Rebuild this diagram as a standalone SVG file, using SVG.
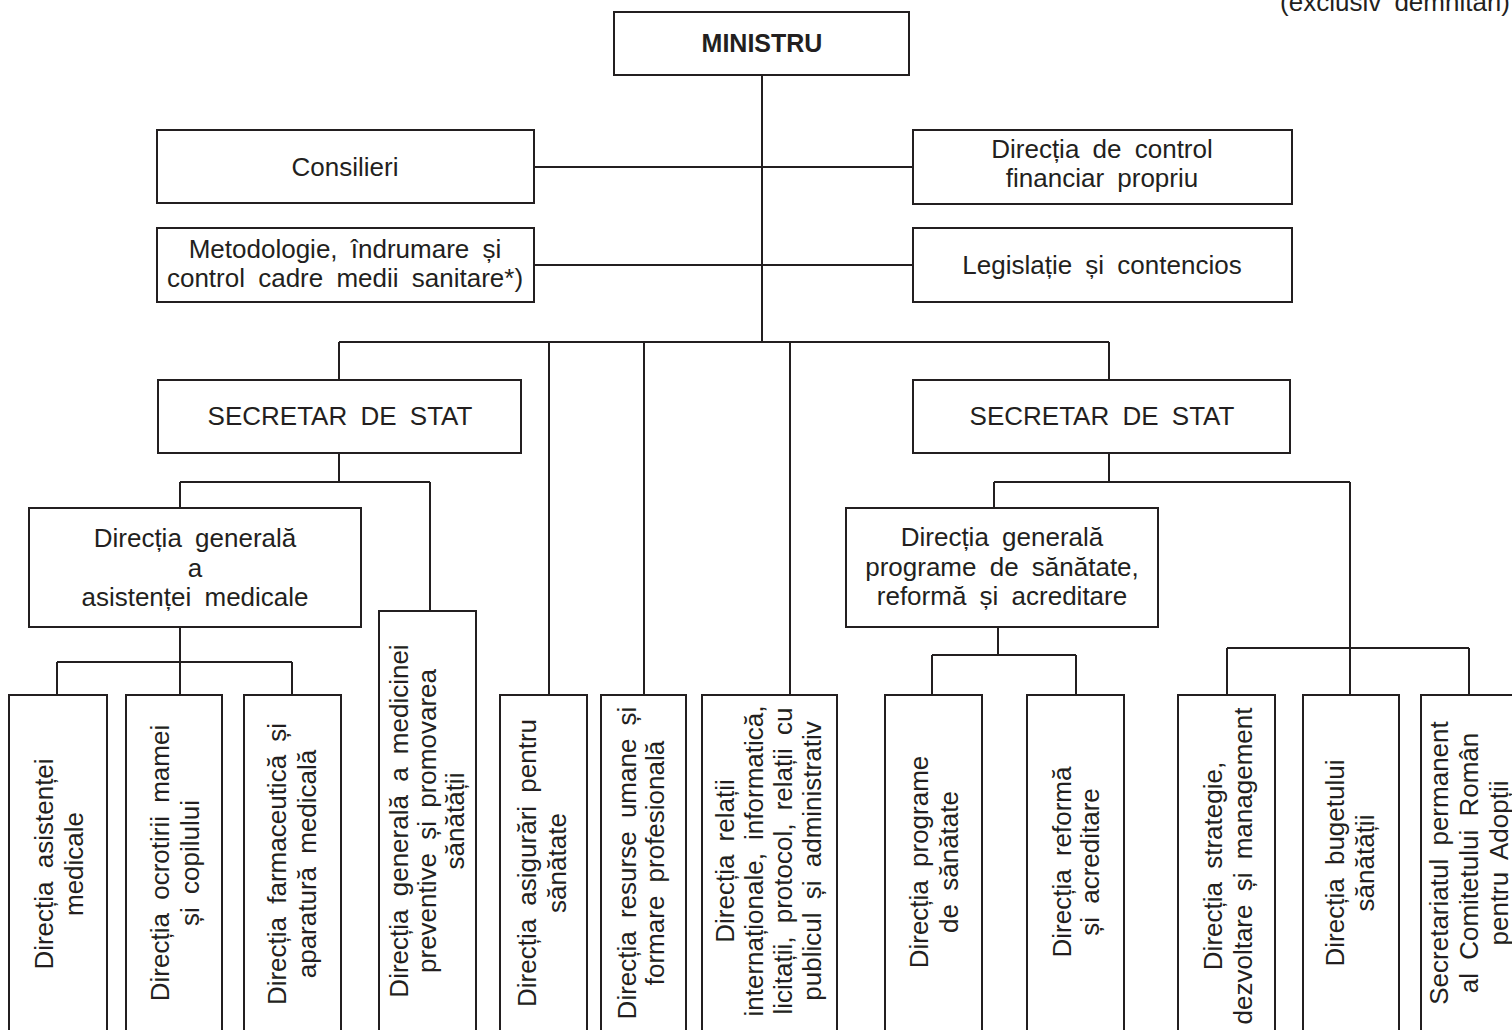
<svg xmlns="http://www.w3.org/2000/svg" width="1512" height="1030" viewBox="0 0 1512 1030">
<style>
.box{fill:#fff;stroke:#231f20;stroke-width:2}
.ln{fill:none;stroke:#231f20;stroke-width:2}
text{font-family:"Liberation Sans",Arial,sans-serif;font-size:26px;fill:#231f20;word-spacing:6px}
.c{text-anchor:middle}
.b{font-weight:bold;font-size:25px}
</style>
<rect width="1512" height="1030" fill="#fff"/>
<text x="1510" y="11" text-anchor="end">(exclusiv demnitari)</text>
<g id="connectors">
<path class="ln" d="M762 75V342M534 167H913M534 265H913M339 342H1109M339 342V380M1109 342V380M549 342V695M644 342V695M790 342V695"/>
<path class="ln" d="M339 453V482M180 482H430M180 482V508M430 482V611M180 627V662M57 662H292M57 662V695M180 662V695M292 662V695"/>
<path class="ln" d="M1109 453V482M994 482H1350M994 482V508M1350 482V695M998 627V655M932 655H1076M932 655V695M1076 655V695M1227 648H1469M1227 648V695M1469 648V695"/>
</g>
<g id="ministru"><rect class="box" x="614" y="12" width="295" height="63"/><text class="c b" x="762" y="52">MINISTRU</text></g>
<g id="consilieri"><rect class="box" x="157" y="130" width="377" height="73"/><text class="c" x="345" y="176">Consilieri</text></g>
<g id="metodologie"><rect class="box" x="157" y="228" width="377" height="74"/><text class="c" x="345" y="258">Metodologie, îndrumare și<tspan x="345" dy="29">control cadre medii sanitare*)</tspan></text></g>
<g id="control"><rect class="box" x="913" y="130" width="379" height="74"/><text class="c" x="1102" y="158">Direcția de control<tspan x="1102" dy="29">financiar propriu</tspan></text></g>
<g id="legislatie"><rect class="box" x="913" y="228" width="379" height="74"/><text class="c" x="1102" y="274">Legislație și contencios</text></g>
<g id="secretar1"><rect class="box" x="158" y="380" width="363" height="73"/><text class="c" x="340" y="425">SECRETAR DE STAT</text></g>
<g id="secretar2"><rect class="box" x="913" y="380" width="377" height="73"/><text class="c" x="1102" y="425">SECRETAR DE STAT</text></g>
<g id="dg-asistenta"><rect class="box" x="29" y="508" width="332" height="119"/><text class="c" x="195" y="547">Direcția generală<tspan x="195" dy="30">a</tspan><tspan x="195" dy="29">asistenței medicale</tspan></text></g>
<g id="dg-programe"><rect class="box" x="846" y="508" width="312" height="119"/><text class="c" x="1002" y="546">Direcția generală<tspan x="1002" dy="30">programe de sănătate,</tspan><tspan x="1002" dy="29">reformă și acreditare</tspan></text></g>
<g id="d-asistenta"><rect class="box" x="9" y="695" width="98" height="345"/><text class="c" transform="translate(53,864) rotate(-90)">Direcția asistenței<tspan x="0" dy="30">medicale</tspan></text></g>
<g id="d-ocrotire"><rect class="box" x="126" y="695" width="96" height="345"/><text class="c" transform="translate(169,863) rotate(-90)">Direcția ocrotirii mamei<tspan x="0" dy="30">și copilului</tspan></text></g>
<g id="d-farma"><rect class="box" x="244" y="695" width="97" height="345"/><text class="c" transform="translate(286,864) rotate(-90)">Direcția farmaceutică și<tspan x="0" dy="30">aparatură medicală</tspan></text></g>
<g id="dg-preventiva"><rect class="box" x="379" y="611" width="97" height="429"/><text class="c" transform="translate(408,821) rotate(-90)">Direcția generală a medicinei<tspan x="0" dy="28">preventive și promovarea</tspan><tspan x="0" dy="28">sănătății</tspan></text></g>
<g id="d-asigurari"><rect class="box" x="500" y="695" width="87" height="345"/><text class="c" transform="translate(536,863) rotate(-90)">Direcția asigurări pentru<tspan x="0" dy="30">sănătate</tspan></text></g>
<g id="d-resurse"><rect class="box" x="601" y="695" width="85" height="345"/><text class="c" transform="translate(636,863) rotate(-90)">Direcția resurse umane și<tspan x="0" dy="28">formare profesională</tspan></text></g>
<g id="d-relatii"><rect class="box" x="702" y="695" width="135" height="345"/><text class="c" transform="translate(734,861) rotate(-90)">Direcția relații<tspan x="0" dy="29">internaționale, informatică,</tspan><tspan x="0" dy="28.5">licitații, protocol, relații cu</tspan><tspan x="0" dy="29.5">publicul și administrativ</tspan></text></g>
<g id="d-programe"><rect class="box" x="885" y="695" width="97" height="345"/><text class="c" transform="translate(928,862) rotate(-90)">Direcția programe<tspan x="0" dy="30">de sănătate</tspan></text></g>
<g id="d-reforma"><rect class="box" x="1027" y="695" width="97" height="345"/><text class="c" transform="translate(1071,862) rotate(-90)">Direcția reformă<tspan x="0" dy="28">și acreditare</tspan></text></g>
<g id="d-strategie"><rect class="box" x="1178" y="695" width="97" height="345"/><text class="c" transform="translate(1222,866) rotate(-90)">Direcția strategie,<tspan x="0" dy="30">dezvoltare și management</tspan></text></g>
<g id="d-buget"><rect class="box" x="1303" y="695" width="96" height="345"/><text class="c" transform="translate(1344,863) rotate(-90)">Direcția bugetului<tspan x="0" dy="30">sănătății</tspan></text></g>
<g id="secretariat"><rect class="box" x="1421" y="695" width="96" height="345"/><text class="c" transform="translate(1448,863) rotate(-90)">Secretariatul permanent<tspan x="0" dy="30">al Comitetului Român</tspan><tspan x="0" dy="30">pentru Adopții</tspan></text></g>
</svg>
